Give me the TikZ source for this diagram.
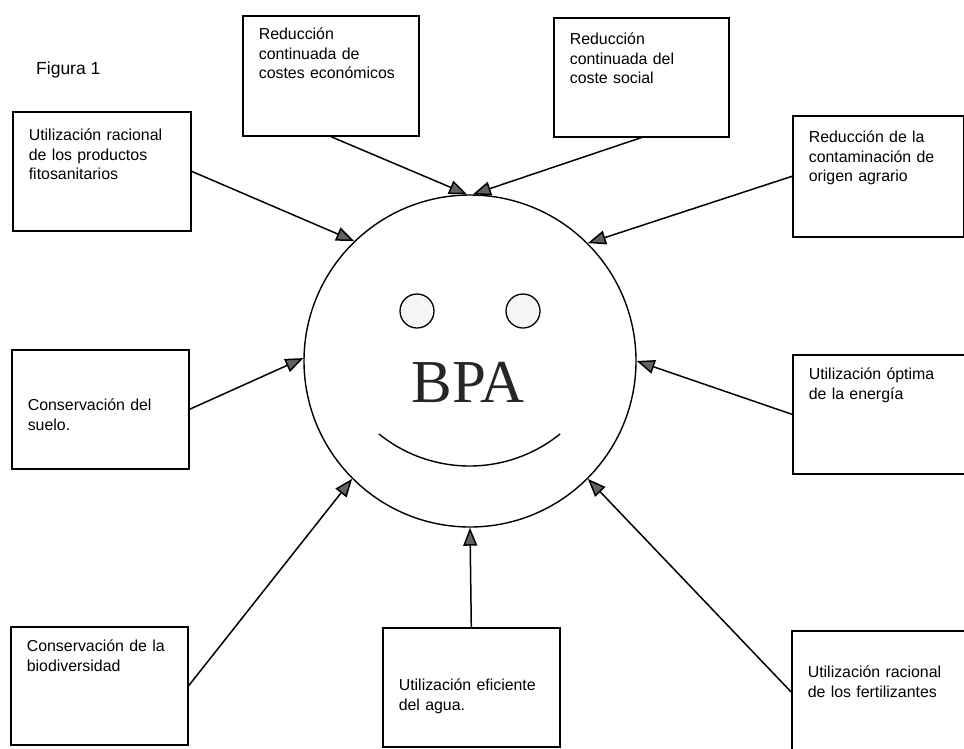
\documentclass[tikz,border=0pt]{standalone}
\usepackage{fontspec}
\setmainfont{Liberation Sans}
\newfontfamily\serifbpa{Liberation Serif}
\usetikzlibrary{arrows.meta}
\tikzset{
  pbox/.style={draw, line width=1.6pt, rectangle, anchor=north west, align=left,
    inner xsep=16pt, inner ysep=0pt, font=\fontsize{15.9}{19.7}\selectfont},
  conn/.style={line width=1.5pt, -{Triangle[length=18pt,width=14pt,fill=black!62]}},
  eye/.style={circle, draw, line width=1.3pt, fill=black!4, minimum size=34pt, inner sep=0pt},
}
\begin{document}
\begin{tikzpicture}[x=1pt,y=-1pt]
\useasboundingbox (0,0) rectangle (964,748);
% central face
\node[circle, draw, line width=1.4pt, minimum size=332pt, inner sep=0pt] (c) at (470,361) {};
\node[eye] (e1) at (417,311) {};
\node[eye] (e2) at (523,311) {};
\node[anchor=base, inner sep=0pt, font=\serifbpa\fontsize{61}{61}\selectfont, text=black!85] (bpa) at (468,402) {BPA};
\draw[line width=1.4pt] (469.5,322) ++(129:144) arc[start angle=129, end angle=51, radius=144];
% title
\node[anchor=base west, inner sep=0pt, font=\fontsize{17.5}{20}\selectfont] (fig) at (36,74) {Figura 1};
% boxes
\node[pbox, text width=146pt, text height=28.5pt, text depth=90.5pt] (b1) at (12,111)
  {Utilización racional\\de los productos\\fitosanitarios};
\node[pbox, text width=144pt, text height=23.5pt, text depth=96.5pt] (b2) at (242,15)
  {Reducción\\continuada de\\costes económicos};
\node[pbox, text width=143pt, text height=26.5pt, text depth=92.5pt] (b3) at (553,17)
  {Reducción\\continuada del\\coste social};
\node[pbox, text width=139pt, text height=26.5pt, text depth=94.5pt] (b4) at (792,115)
  {Reducción de la\\contaminación de\\origen agrario};
\node[pbox, text width=145pt, text height=60.5pt, text depth=58.5pt] (b5) at (11,349)
  {Conservación del\\suelo.};
\node[pbox, text width=144pt, text height=25pt, text depth=94pt] (b8) at (792,354)
  {Utilización óptima\\de la energía};
\node[pbox, text width=145pt, text height=24.5pt, text depth=93.5pt] (b6) at (10,626)
  {Conservación de la\\biodiversidad};
\node[pbox, text width=145pt, text height=62.5pt, text depth=56.5pt] (b7) at (382,627)
  {Utilización eficiente\\del agua.};
\node[pbox, text width=144pt, text height=46.5pt, text depth=75.5pt] (b9) at (791,630)
  {Utilización racional\\de los fertilizantes};
% connectors
\draw[conn] (b1.east) -- (c.134.5);
\draw[conn] (b2.south) -- (c.91);
\draw[conn] (b3.south) -- (c.89);
\draw[conn] (b4.west) -- (c.45);
\draw[conn] (b5.east) -- (c.179);
\draw[conn] (b8.west) -- (c.0);
\draw[conn] (b6.east) -- (c.225);
\draw[conn] (b7.north) -- (c.270);
\draw[conn] (b9.west) -- (c.315);
\end{tikzpicture}
\end{document}
